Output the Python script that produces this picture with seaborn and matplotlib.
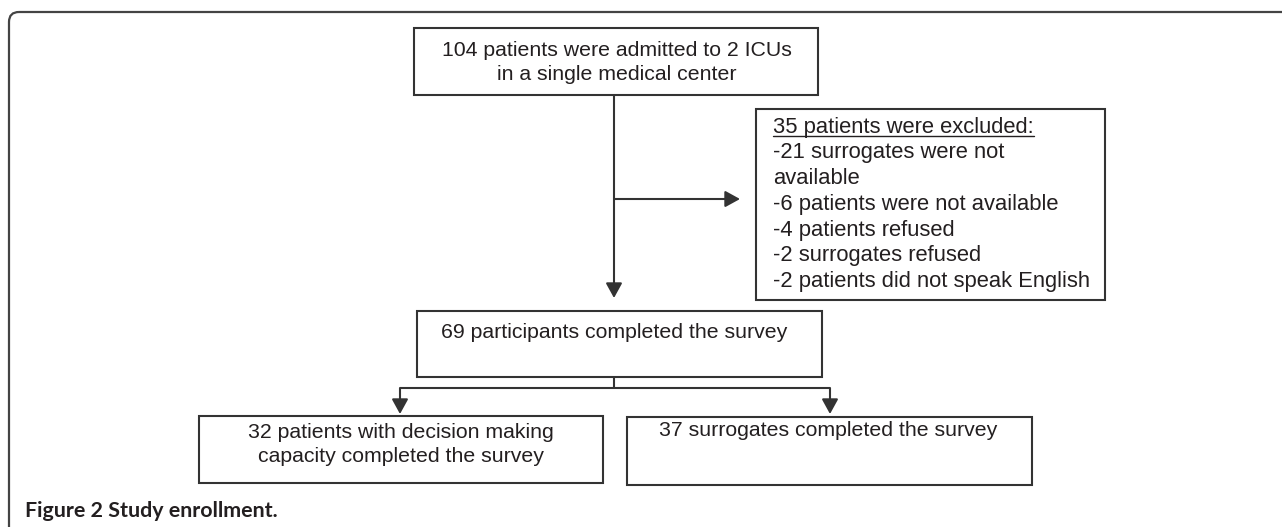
import matplotlib
matplotlib.use("Agg")
import matplotlib.pyplot as plt
from matplotlib.patches import Rectangle, FancyBboxPatch
import seaborn as sns

# ---- content ----
top_lines = ["104 patients were admitted to 2 ICUs", "in a single medical center"]
excl_title = "35 patients were excluded:"
excl_lines = ["-21 surrogates were not", "available", "-6 patients were not available",
              "-4 patients refused", "-2 surrogates refused", "-2 patients did not speak English"]
mid_lines = ["69 participants completed the survey"]
left_lines = ["32 patients with decision making", "capacity completed the survey"]
right_lines = ["37 surrogates completed the survey"]
caption = "Figure 2 Study enrollment."

sns.set_theme(style="white")
plt.rcParams['font.family'] = ['Liberation Sans', 'DejaVu Sans']

W, H = 1282, 527
fig = plt.figure(figsize=(W / 100, H / 100), dpi=100)
ax = fig.add_axes([0, 0, 1, 1])
ax.set_xlim(0, W)
ax.set_ylim(H, 0)
ax.axis("off")

LC = "#333333"
TC = "#231f20"
LW = 1.5
FS = 15.3
FS_EX = 15.8

# outer frame (only top/left visible)
frame = FancyBboxPatch((9, 12), 1500, 700, boxstyle="round,pad=0,rounding_size=10",
                       fill=False, ec="#444444", lw=1.6)
ax.add_patch(frame)


def box(x0, x1, y0, y1):
    ax.add_patch(Rectangle((x0, y0), x1 - x0, y1 - y0, fill=False, ec=LC, lw=LW))


def line(xs, ys):
    ax.plot(xs, ys, color=LC, lw=LW, solid_capstyle="butt")


def arrow(x0, y0, x1, y1):
    ax.annotate("", xy=(x1, y1), xytext=(x0, y0),
                arrowprops=dict(arrowstyle="-|>,head_length=0.6,head_width=0.33",
                                mutation_scale=15, color=LC, lw=LW,
                                shrinkA=0, shrinkB=0))


def centered(lines, xc, ys):
    for t, y in zip(lines, ys):
        ax.text(xc, y, t, ha="center", va="center", fontsize=FS, color=TC)


# top box
box(414, 818, 28, 95)
centered(top_lines, 617, [50, 74])

# excluded box
box(756, 1105, 109, 300)
t = ax.text(773, 127, excl_title, ha="left", va="center", fontsize=FS_EX, color=TC)
for i, s in enumerate(excl_lines):
    ax.text(773, 152.8 + 25.8 * i, s, ha="left", va="center", fontsize=FS_EX, color=TC)

# main connectors
arrow(614, 95, 614, 298)
arrow(614, 199, 740, 199)

# middle box
box(417, 822, 311, 377)
centered(mid_lines, 614, [333])

# split
line([614, 614], [377, 388])
line([400, 830], [388, 388])
arrow(400, 388, 400, 414)
arrow(830, 388, 830, 414)

# bottom boxes
box(199, 603, 416, 483)
centered(left_lines, 401, [432, 456])
box(627, 1032, 417, 485)
centered(right_lines, 828, [431])

# caption
ax.text(25, 511, caption, ha="left", va="center", fontsize=15.4,
        fontweight="bold", color=TC, family=["Lato", "DejaVu Sans"])

# underline the excluded title
fig.canvas.draw()
r = fig.canvas.get_renderer()
bb = t.get_window_extent(r)
inv = ax.transData.inverted()
(xa, ya), (xb, yb) = inv.transform((bb.x0, bb.y0)), inv.transform((bb.x1, bb.y0))
ax.plot([xa, xb], [ya - 1.5, ya - 1.5], color=TC, lw=1.0)

fig.savefig("out.png", dpi=100)
